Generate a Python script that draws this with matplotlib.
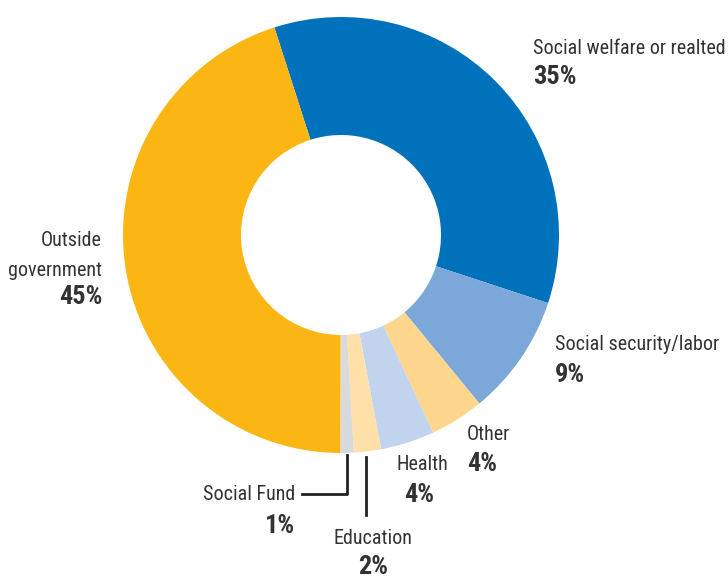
import numpy as np
import matplotlib.pyplot as plt
from matplotlib import font_manager

labels = ["Social welfare or realted", "Social security/labor", "Other", "Health",
          "Education", "Social Fund", "Outside government"]
values = [35, 9, 4, 4, 2, 1, 45]
colors = ["#0072BC", "#7BA7D9", "#FFD68E", "#C2D3EE", "#FFE0A8", "#D9DADC", "#FBB614"]

# pick a narrow face if one is installed
family = "Roboto"
for f in ["Liberation Sans Narrow", "DejaVu Sans Condensed", "Roboto Condensed",
          "Open Sans Condensed", "Noto Sans Condensed"]:
    try:
        font_manager.findfont(f, fallback_to_default=False)
        family = f
        break
    except ValueError:
        pass
plt.rcParams['font.family'] = [family, 'DejaVu Sans']

W, H = 728, 578
fig = plt.figure(figsize=(W / 100, H / 100), dpi=100)
ax = fig.add_axes([0, 0, 1, 1])

cx, cy, r = 341, H - 235, 218
ax.pie(values, colors=colors, startangle=107.8, counterclock=False,
       center=(cx, cy), radius=r, frame=True,
       wedgeprops={"width": r - 100, "linewidth": 0})
ax.set_xlim(0, W)
ax.set_ylim(0, H)
ax.axis('off')

tc = "#333333"
fs, pfs = 14.5, 19

def put(x, y, s, ha="left", bold=False):
    # y given in pixels from the top
    ax.text(x, H - y, s, ha=ha, va="center", fontsize=pfs if bold else fs,
            color=tc, weight="bold" if bold else "normal")

put(533, 49, labels[0])
put(533, 77, f"{values[0]}%", bold=True)

put(555, 345, labels[1])
put(555, 375, f"{values[1]}%", bold=True)

put(467, 434, labels[2])
put(467, 464, f"{values[2]}%", bold=True)

put(396, 465, labels[3])
put(404, 495, f"{values[3]}%", bold=True)

put(295, 495, labels[5], ha="right")
put(295, 526, f"{values[5]}%", ha="right", bold=True)

put(373, 538, labels[4], ha="center")
put(373, 567, f"{values[4]}%", ha="center", bold=True)

put(102, 241, "Outside", ha="right")
put(102, 270, "government", ha="right")
put(102, 297, f"{values[6]}%", ha="right", bold=True)

# leader lines
ax.plot([347, 347, 302], [H - 455, H - 494, H - 494], color="#222222", lw=2)
ax.plot([366, 366], [H - 457, H - 515], color="#222222", lw=2)

fig.savefig("out.png", dpi=100)
